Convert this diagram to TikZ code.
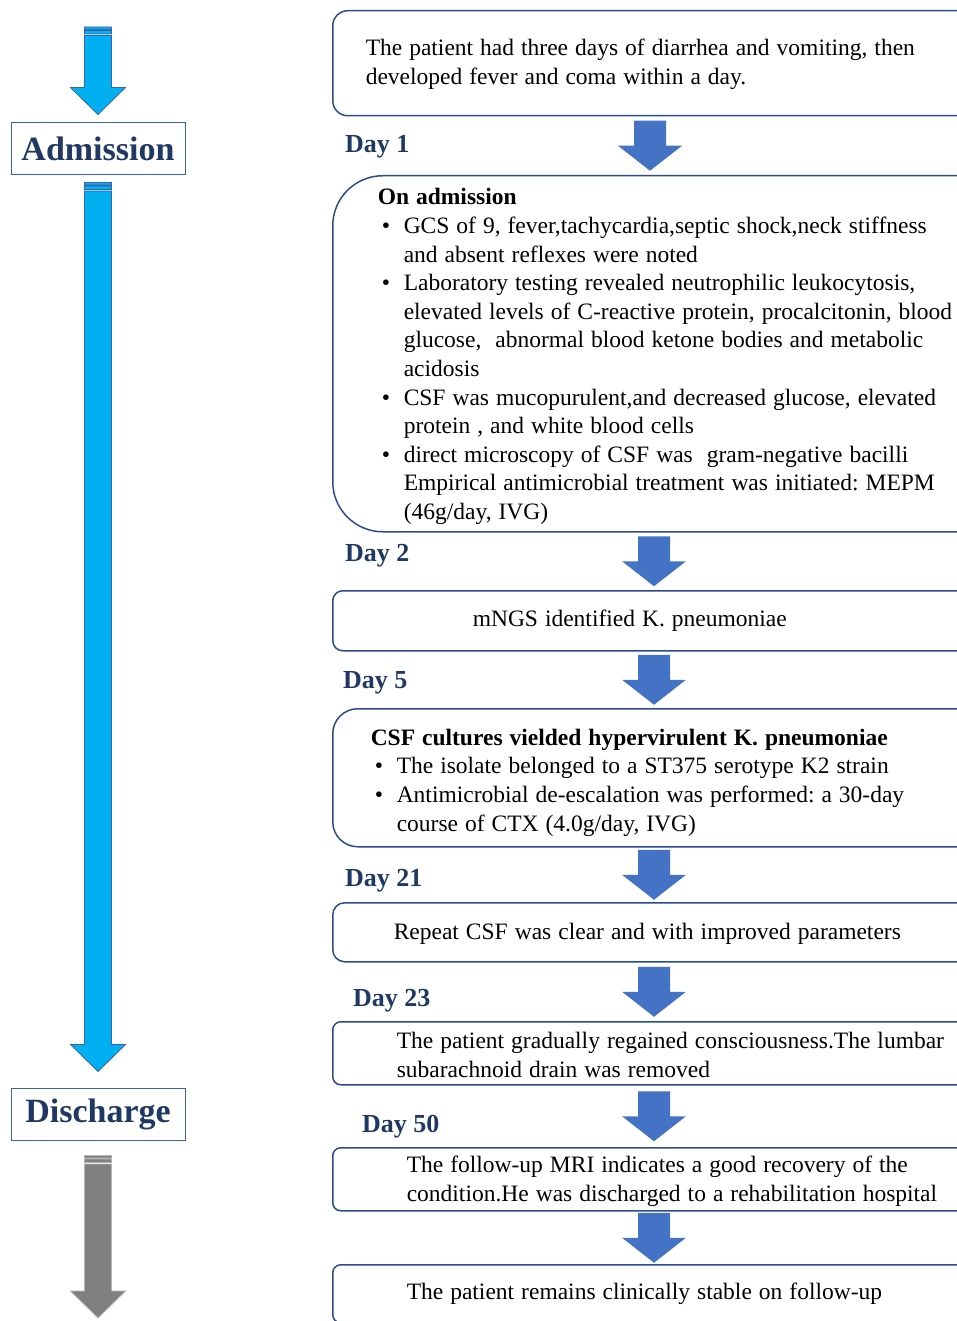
\documentclass[tikz,border=0pt]{standalone}
\usepackage{fontspec}
\setmainfont{Liberation Serif}
\frenchspacing
\usetikzlibrary{calc}

\definecolor{navy}{HTML}{1F3864}
\definecolor{boxline}{HTML}{2B4C8C}
\definecolor{flowblue}{HTML}{4472C4}
\definecolor{timeblue}{HTML}{00B0F0}
\definecolor{timeedge}{HTML}{3B64A8}
\definecolor{timegray}{HTML}{808080}
\definecolor{grayedge}{HTML}{B4B4B4}

% bullet lines inside the boxes
\newcommand{\bitem}[1]{\hspace*{4pt}\makebox[22pt][l]{\textbullet}#1}
\newcommand{\bcont}{\hspace*{26pt}}

% block arrow between two boxes: upper, lower, x of the arrow
\newcommand{\flowarrow}[3]{%
  \fill[flowblue] let \p1=(#1.south), \p2=(#2.north), \n1={0.5*(\y1+\y2)} in
    (#3-16,\n1+25) -- (#3+16,\n1+25) -- (#3+16,\n1) -- (#3+32,\n1)
    -- (#3,\n1-25) -- (#3-32,\n1) -- (#3-16,\n1) -- cycle;}

% striped timeline arrow: fill, edge, top, tip
\newcommand{\timearrow}[4]{%
  \path[fill=#1, draw=#2, line width=0.8pt] let \p1=#3, \p2=#4 in
    (\x2-13.5,\y1) rectangle (\x2+13.5,\y1-2.5)
    (\x2-13.5,\y1-3.5) rectangle (\x2+13.5,\y1-7)
    (\x2-13.5,\y1-8.5) -- (\x2+13.5,\y1-8.5) -- (\x2+13.5,\y2+27)
    -- (\x2+27.5,\y2+27) -- (\x2,\y2) -- (\x2-27.5,\y2+27)
    -- (\x2-13.5,\y2+27) -- cycle;}

\begin{document}
\begin{tikzpicture}[
    x=1pt, y=1pt,
    box/.style={draw=boxline, line width=1.5pt, anchor=north west, align=left,
      text width=620pt, inner ysep=0pt,
      font=\fontsize{23.5}{28.6}\selectfont},
    lift/.style={execute at begin node={%
      \spaceskip=7pt plus 3pt minus 1pt\xspaceskip=\spaceskip\rule{0pt}{#1}}},
    day/.style={anchor=west, inner sep=0pt, text=navy,
      font=\fontsize{26}{30}\selectfont\bfseries},
    stage/.style={draw=timeedge, line width=1pt, minimum width=174pt,
      minimum height=52pt, inner sep=0pt, text=navy,
      font=\fontsize{34}{40}\selectfont\bfseries},
  ]
  \useasboundingbox (0,0) rectangle (956,-1321);

  %% -- timeline on the left --
  \node[stage] (adm) at (98,-149) {Admission};
  \node[stage] (dis) at (98,-1114) {Discharge};
  \coordinate (start) at (98,-27);
  \coordinate (end) at (98,-1318);

  \timearrow{timeblue}{timeedge}{(start)}{($(adm.north)+(0,8)$)}
  \timearrow{timeblue}{timeedge}{($(adm.south)+(0,-7)$)}{($(dis.north)+(0,16)$)}
  \timearrow{timegray}{grayedge}{($(dis.south)+(0,-15)$)}{(end)}

  %% -- boxes --
  \node[box, lift=18pt, inner xsep=33pt, minimum height=105pt, rounded corners=15pt] (onset) at (332,-10)
    {The patient had three days of diarrhea and vomiting, then\\
     developed fever and coma within a day.};

  \node[box, lift=22pt, inner xsep=45pt, minimum height=356pt, rounded corners=50pt] (admbox) at (332,-175)
    {\textbf{On admission}\\
     \bitem{GCS of 9, fever,tachycardia,septic shock,neck stiffness}\\
     \bcont and absent reflexes were noted\\
     \bitem{Laboratory testing revealed neutrophilic leukocytosis,}\\
     \bcont elevated levels of C-reactive protein, procalcitonin, blood\\
     \bcont glucose,\ \ abnormal blood ketone bodies and metabolic\\
     \bcont acidosis\\
     \bitem{CSF was mucopurulent,and decreased glucose, elevated}\\
     \bcont protein , and white blood cells\\
     \bitem{direct microscopy of CSF was\ \ gram-negative bacilli}\\
     \bcont Empirical antimicrobial treatment was initiated: MEPM\\
     \bcont (46g/day, IVG)};

  \node[box, lift=0pt, inner xsep=140pt, minimum height=60pt, rounded corners=10pt] (ngs) at (332,-590)
    {mNGS identified K. pneumoniae};

  \node[box, lift=26pt, inner xsep=38pt, minimum height=138pt, rounded corners=25pt] (culture) at (332,-708)
    {\textbf{CSF cultures vielded hypervirulent K. pneumoniae}\\
     \bitem{The isolate belonged to a ST375 serotype K2 strain}\\
     \bitem{Antimicrobial de-escalation was performed: a 30-day}\\
     \bcont course of CTX (4.0g/day, IVG)};

  \node[box, lift=20pt, inner xsep=61pt, minimum height=59pt, rounded corners=12pt] (repeat) at (332,-902)
    {Repeat CSF was clear and with improved parameters};

  \node[box, lift=20pt, inner xsep=64pt, minimum height=63pt, rounded corners=8pt] (wake) at (332,-1021)
    {The patient gradually regained consciousness.The lumbar\\
     subarachnoid drain was removed};

  \node[box, lift=21pt, inner xsep=74pt, minimum height=63pt, rounded corners=8pt] (mri) at (332,-1147)
    {The follow-up MRI indicates a good recovery of the\\
     condition.He was discharged to a rehabilitation hospital};

  \node[box, lift=0pt, inner xsep=74pt, minimum height=58pt, rounded corners=8pt] (follow) at (332,-1264)
    {The patient remains clinically stable on follow-up};

  %% -- day labels --
  \node[day] (d1) at (345,-147) {Day 1};
  \node[day] (d2) at (345,-556) {Day 2};
  \node[day] (d5) at (343,-683) {Day 5};
  \node[day] (d21) at (345,-881) {Day 21};
  \node[day] (d23) at (353,-1001) {Day 23};
  \node[day] (d50) at (362,-1127) {Day 50};

  %% -- arrows between boxes --
  \flowarrow{onset}{admbox}{650}
  \flowarrow{admbox}{ngs}{654}
  \flowarrow{ngs}{culture}{654}
  \flowarrow{culture}{repeat}{654}
  \flowarrow{repeat}{wake}{654}
  \flowarrow{wake}{mri}{654}
  \flowarrow{mri}{follow}{654}
\end{tikzpicture}
\end{document}
